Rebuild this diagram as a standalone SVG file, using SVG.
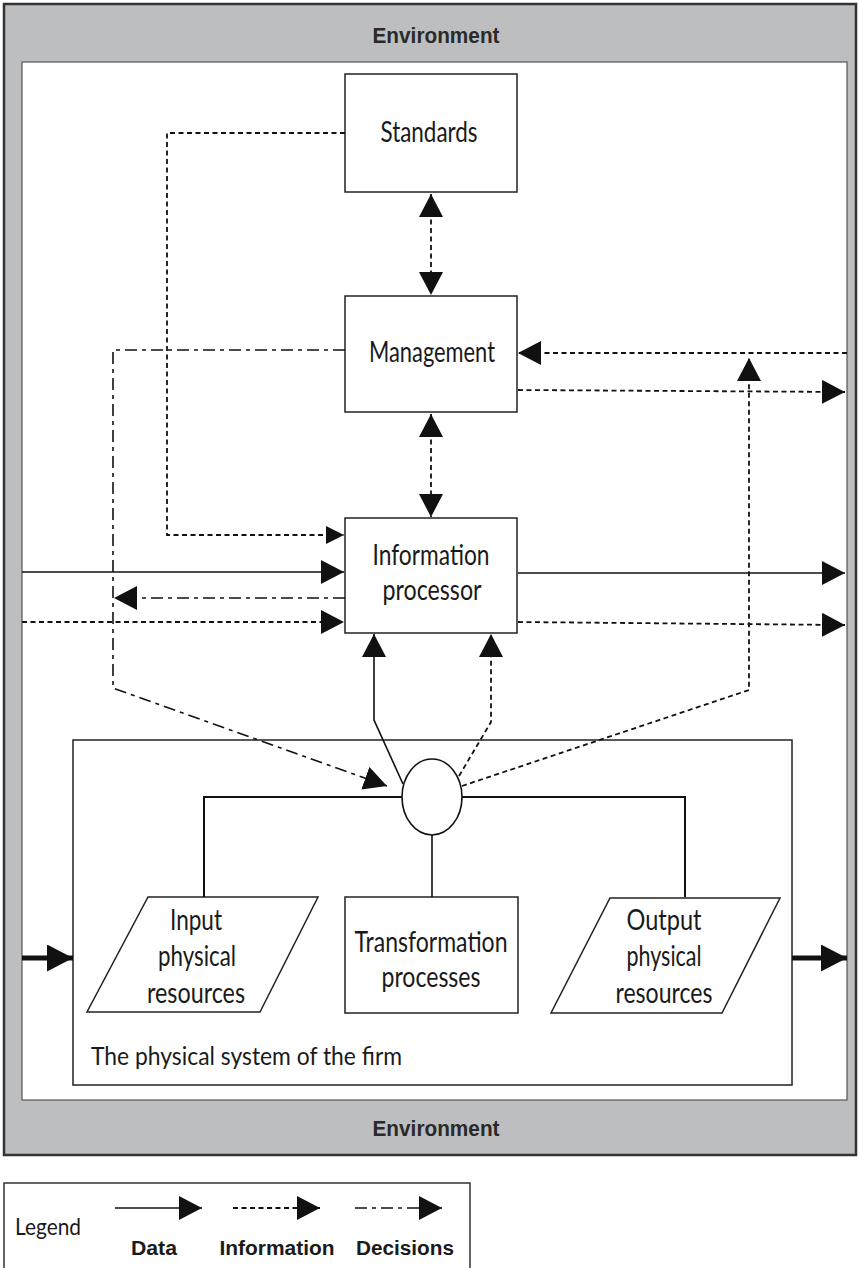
<svg xmlns="http://www.w3.org/2000/svg" width="859" height="1268" viewBox="0 0 859 1268">
  <style>
    .env { font-family: "Liberation Sans", Arial, sans-serif; font-weight: bold; font-size: 22px; fill: #2a2a2a; text-anchor: middle; }
    .lbl { font-family: Lato, "Open Sans", sans-serif; font-size: 28px; fill: #1a1a1a; text-anchor: middle; }
    .box { fill: #fff; stroke: #222; stroke-width: 1.5; }
    .data { fill: none; stroke: #111; stroke-width: 1.6; }
    .info { fill: none; stroke: #111; stroke-width: 1.8; stroke-dasharray: 5 3.5; }
    .dec { fill: none; stroke: #111; stroke-width: 1.6; stroke-dasharray: 12 5 4 5; }
    .thick { fill: none; stroke: #111; stroke-width: 5; }
    .leg { font-family: "Liberation Sans", Arial, sans-serif; font-weight: bold; font-size: 20px; fill: #1a1a1a; text-anchor: middle; }
  </style>
  <defs>
    <marker id="ah" viewBox="0 0 10 10" refX="10" refY="5" markerWidth="18" markerHeight="18" markerUnits="userSpaceOnUse" orient="auto-start-reverse">
      <path d="M0,0 L10,5 L0,10 Z" fill="#111"/>
    </marker>
    <marker id="ahBig" viewBox="0 0 10 10" refX="10" refY="5" markerWidth="23" markerHeight="24" markerUnits="userSpaceOnUse" orient="auto-start-reverse" preserveAspectRatio="none">
      <path d="M0,0 L10,5 L0,10 Z" fill="#111"/>
    </marker>
    <marker id="ahThick" viewBox="0 0 10 10" refX="10" refY="5" markerWidth="5.2" markerHeight="5.4" orient="auto" preserveAspectRatio="none">
      <path d="M0,0 L10,5 L0,10 Z" fill="#111"/>
    </marker>
  </defs>

  <!-- environment frame -->
  <g id="environment">
    <rect x="4" y="4" width="852" height="1151" fill="#bdbec0" stroke="#333" stroke-width="2.5"/>
    <rect x="22" y="62" width="825" height="1038" fill="#fff" stroke="#555" stroke-width="1.2"/>
    <text class="env" x="436" y="43" textLength="127" lengthAdjust="spacingAndGlyphs">Environment</text>
    <text class="env" x="436" y="1136" textLength="127" lengthAdjust="spacingAndGlyphs">Environment</text>
  </g>

  <!-- physical system of the firm -->
  <g id="physical-system">
    <rect x="73" y="740" width="719" height="345" class="box"/>
    <text x="91" y="1065" style="font-family:Lato,'Open Sans',sans-serif;font-size:25px;fill:#1a1a1a" textLength="311" lengthAdjust="spacingAndGlyphs">The physical system of the firm</text>
  </g>

  <g id="standards">
    <rect x="345" y="74" width="172" height="118" class="box"/>
    <text class="lbl" x="429" y="142" textLength="97" lengthAdjust="spacingAndGlyphs">Standards</text>
  </g>

  <g id="management">
    <rect x="345" y="296" width="172" height="116" class="box"/>
    <text class="lbl" x="432" y="362" textLength="126" lengthAdjust="spacingAndGlyphs">Management</text>
  </g>

  <g id="information-processor">
    <rect x="345" y="518" width="172" height="115" class="box"/>
    <text class="lbl" x="431" y="565" textLength="117" lengthAdjust="spacingAndGlyphs">Information</text>
    <text class="lbl" x="432" y="600" textLength="99" lengthAdjust="spacingAndGlyphs">processor</text>
  </g>

  <g id="input-resources">
    <polygon points="148,897 318,897 260,1012 87,1012" class="box"/>
    <text class="lbl" x="196" y="930" textLength="52" lengthAdjust="spacingAndGlyphs">Input</text>
    <text class="lbl" x="197" y="966" textLength="78" lengthAdjust="spacingAndGlyphs">physical</text>
    <text class="lbl" x="196" y="1003" textLength="98" lengthAdjust="spacingAndGlyphs">resources</text>
  </g>

  <g id="transformation">
    <rect x="345" y="897" width="173" height="116" class="box"/>
    <text class="lbl" x="431" y="952" textLength="153" lengthAdjust="spacingAndGlyphs">Transformation</text>
    <text class="lbl" x="431" y="987" textLength="99" lengthAdjust="spacingAndGlyphs">processes</text>
  </g>

  <g id="output-resources">
    <polygon points="610,898 780,898 722,1013 551,1013" class="box"/>
    <text class="lbl" x="664" y="930" textLength="75" lengthAdjust="spacingAndGlyphs">Output</text>
    <text class="lbl" x="664" y="966" textLength="75" lengthAdjust="spacingAndGlyphs">physical</text>
    <text class="lbl" x="664" y="1003" textLength="97" lengthAdjust="spacingAndGlyphs">resources</text>
  </g>

  <g id="connectors">
    <!-- standards <-> management, management <-> information processor -->
    <line x1="431" y1="194" x2="431" y2="295" class="info" marker-start="url(#ahBig)" marker-end="url(#ahBig)"/>
    <line x1="431" y1="414" x2="431" y2="517" class="info" marker-start="url(#ahBig)" marker-end="url(#ahBig)"/>

    <!-- standards to information processor -->
    <path d="M345,133 H167 V535 H344" class="info" marker-end="url(#ah)"/>

    <!-- management decisions to the physical system -->
    <path d="M345,350 H113 V688 L387,786" class="dec" marker-end="url(#ahBig)"/>

    <!-- environment information into management -->
    <line x1="847" y1="353" x2="518" y2="353" class="info" marker-end="url(#ahBig)"/>
    <!-- management information out to environment -->
    <line x1="518" y1="390" x2="845" y2="392" class="info" marker-end="url(#ahBig)"/>
    <!-- physical system information up to management -->
    <path d="M462,786 L749,690 V358" class="info" marker-end="url(#ahBig)"/>

    <!-- information processor inputs and outputs -->
    <line x1="22" y1="572" x2="344" y2="572" class="data" marker-end="url(#ahBig)"/>
    <line x1="345" y1="598" x2="114" y2="598" class="dec" marker-end="url(#ahBig)"/>
    <line x1="22" y1="622" x2="344" y2="622" class="info" marker-end="url(#ahBig)"/>
    <line x1="518" y1="573" x2="845" y2="573" class="data" marker-end="url(#ahBig)"/>
    <line x1="518" y1="622" x2="845" y2="625" class="info" marker-end="url(#ahBig)"/>

    <!-- physical system data and information up to the processor -->
    <path d="M403,784 L374,720 V634" class="data" marker-end="url(#ahBig)"/>
    <path d="M459,776 L491,722 V634" class="info" marker-end="url(#ahBig)"/>

    <!-- internal links of the physical system -->
    <path d="M204,897 V797 H402" class="data" style="stroke-width:2"/>
    <path d="M462,797 H685 V897" class="data" style="stroke-width:2"/>
    <line x1="432" y1="835" x2="432" y2="897" class="data"/>
    <ellipse cx="432" cy="797" rx="30" ry="38" fill="#fff" stroke="#111" stroke-width="1.6"/>

    <!-- physical flows in and out -->
    <line x1="22" y1="958" x2="73" y2="958" class="thick" marker-end="url(#ahThick)"/>
    <line x1="792" y1="958" x2="847" y2="958" class="thick" marker-end="url(#ahThick)"/>
  </g>

  <!-- legend -->
  <g id="legend">
    <rect x="4" y="1183" width="466" height="90" fill="#fff" stroke="#333" stroke-width="1.5"/>
    <text x="15" y="1235" style="font-family:Lato,'Open Sans',sans-serif;font-size:23px;fill:#1a1a1a" textLength="66" lengthAdjust="spacingAndGlyphs">Legend</text>
    <line x1="115" y1="1208" x2="202" y2="1208" class="data" marker-end="url(#ahBig)"/>
    <line x1="233" y1="1208" x2="320" y2="1208" class="info" marker-end="url(#ahBig)"/>
    <line x1="355" y1="1208" x2="442" y2="1208" class="dec" marker-end="url(#ahBig)"/>
    <text class="leg" x="154" y="1255" textLength="46" lengthAdjust="spacingAndGlyphs">Data</text>
    <text class="leg" x="277" y="1255" textLength="115" lengthAdjust="spacingAndGlyphs">Information</text>
    <text class="leg" x="405" y="1255" textLength="98" lengthAdjust="spacingAndGlyphs">Decisions</text>
  </g>
</svg>
